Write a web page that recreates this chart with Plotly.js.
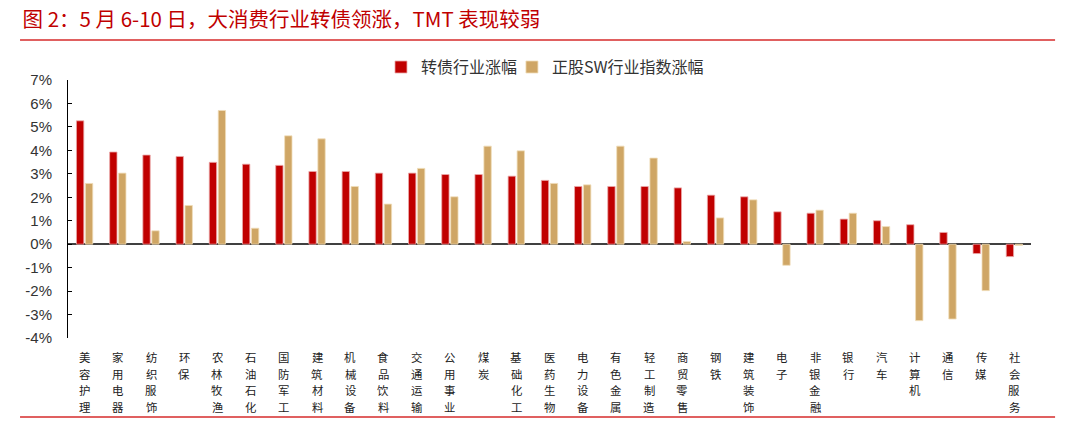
<!DOCTYPE html>
<html>
<head>
<meta charset="utf-8">
<script src="https://cdn.plot.ly/plotly-3.0.1.min.js"></script>
<style>
html,body{margin:0;padding:0;background:#fff;}
#chart{width:1077px;height:422px;}
</style>
</head>
<body>
<div id="chart"></div>
<script>
// Data (values in %)
const categories = ["美容护理","家用电器","纺织服饰","环保","农林牧渔","石油石化","国防军工","建筑材料","机械设备","食品饮料","交通运输","公用事业","煤炭","基础化工","医药生物","电力设备","有色金属","轻工制造","商贸零售","钢铁","建筑装饰","电子","非银金融","银行","汽车","计算机","通信","传媒","社会服务"];
const cbChange = [5.26,3.93,3.80,3.74,3.49,3.41,3.36,3.10,3.10,3.03,3.03,2.97,2.97,2.90,2.72,2.46,2.46,2.46,2.40,2.09,2.02,1.38,1.32,1.07,1.00,0.83,0.50,-0.40,-0.53];
const swChange = [2.59,3.03,0.57,1.65,5.70,0.68,4.62,4.49,2.46,1.71,3.23,2.02,4.18,3.98,2.59,2.53,4.18,3.67,0.11,1.12,1.89,-0.90,1.45,1.32,0.75,-3.26,-3.19,-1.98,-0.05];
const seriesNames = ["转债行业涨幅","正股SW行业指数涨幅"];
const yTickVals = [-4,-3,-2,-1,0,1,2,3,4,5,6,7];
const yTickText = ["-4%","-3%","-2%","-1%","0%","1%","2%","3%","4%","5%","6%","7%"];
const titleText = "图 2：5 月 6-10 日，大消费行业转债领涨，TMT 表现较弱";

// Vertical category labels: one character per annotation, stacked downward
const labelAnnotations = [];
categories.forEach(cat => {
  Array.from(cat).forEach((ch, j) => {
    labelAnnotations.push({
      x: cat, xref: "x", y: 0, yref: "paper",
      xanchor: "center", yanchor: "top",
      yshift: -10 - j * 16.6,
      text: ch, showarrow: false, borderpad: 0,
      font: {family: "Noto Sans CJK SC", size: 11.4, color: "#222"}
    });
  });
});

const traces = [
  {type:"bar", name:seriesNames[0], x:categories, y:cbChange, legend:"legend",
   marker:{color:"#C00000", line:{color:"#EBA9A9", width:0.8}}},
  {type:"bar", name:seriesNames[1], x:categories, y:swChange, legend:"legend2",
   marker:{color:"#CFA665", line:{color:"#F0DDB9", width:0.8}}}
];

const legendFont = {family:"Noto Sans CJK SC, Liberation Sans", size:16, color:"#333"};

const layout = {
  width:1077, height:422,
  margin:{l:68, r:46, t:80, b:84},
  paper_bgcolor:"#fff", plot_bgcolor:"#fff",
  font:{family:"Liberation Sans, Arial, sans-serif", color:"#333"},
  barmode:"group", bargap:0.46, bargroupgap:0.18,
  title:{text:titleText, x:0.021, xanchor:"left", y:0.952, yanchor:"middle",
         font:{family:"Noto Sans CJK SC", size:20.5, color:"#C00000"}},
  showlegend:true,
  legend:{orientation:"h", x:0.325, xanchor:"left", y:1.05, yanchor:"middle",
          font:legendFont, itemwidth:30, bgcolor:"rgba(0,0,0,0)"},
  legend2:{orientation:"h", x:0.461, xanchor:"left", y:1.05, yanchor:"middle",
          font:legendFont, itemwidth:30, bgcolor:"rgba(0,0,0,0)"},
  xaxis:{type:"category", showticklabels:false,
         showline:false, ticks:"", showgrid:false, zeroline:false},
  yaxis:{range:[-4,7], tickmode:"array", tickvals:yTickVals, ticktext:yTickText,
         tickfont:{family:"Liberation Sans, Arial", size:15, color:"#333"},
         ticklabelstandoff:12,
         showline:true, linecolor:"#000", linewidth:1, ticks:"inside", ticklen:4,
         tickcolor:"#000", showgrid:false, zeroline:true, zerolinecolor:"#404040",
         zerolinewidth:1.6},
  annotations: labelAnnotations,
  shapes:[
    {type:"line", xref:"paper", yref:"paper", x0:-0.0498, x1:1.025, y0:1.155, y1:1.155,
     line:{color:"#D62B2B", width:1.5}},
    {type:"line", xref:"paper", yref:"paper", x0:-0.0498, x1:1.025, y0:-0.306, y1:-0.306,
     line:{color:"#D62B2B", width:1.5}}
  ]
};

Plotly.newPlot("chart", traces, layout, {displayModeBar:false, staticPlot:true});
</script>
</body>
</html>
